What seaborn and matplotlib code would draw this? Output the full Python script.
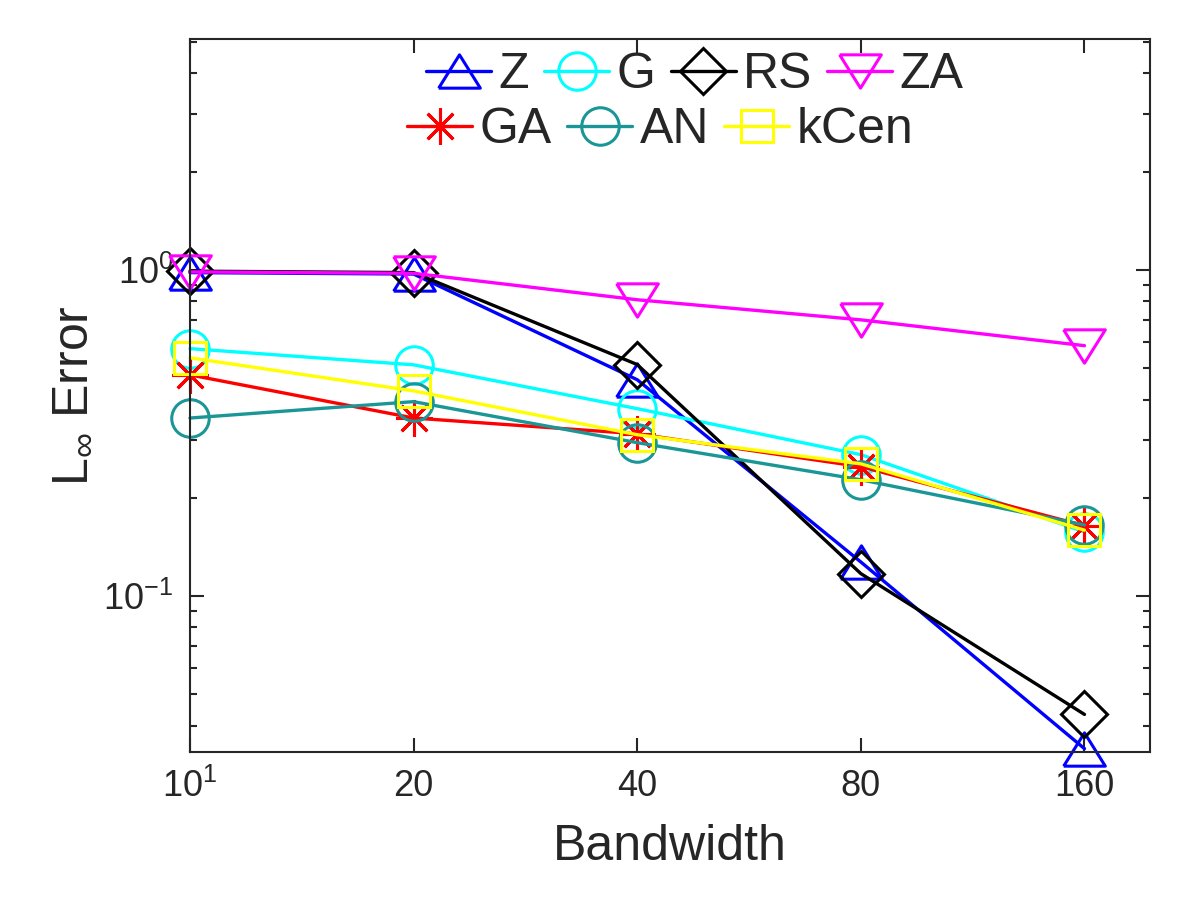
import numpy as np
import pandas as pd
import seaborn as sns
import matplotlib.pyplot as plt
from matplotlib.ticker import FixedLocator, FixedFormatter, NullLocator, LogLocator

# data
bandwidth = [10, 20, 40, 80, 160]
err_Z = [0.98, 0.97, 0.46, 0.127, 0.034]
err_G = [0.573, 0.511, 0.375, 0.271, 0.157]
err_RS = [0.99, 0.98, 0.512, 0.117, 0.0433]
err_ZA = [0.985, 0.975, 0.809, 0.702, 0.585]
err_GA = [0.476, 0.351, 0.314, 0.249, 0.164]
err_AN = [0.351, 0.394, 0.295, 0.227, 0.165]
err_kCen = [0.537, 0.425, 0.312, 0.254, 0.159]

names = ['Z', 'G', 'RS', 'ZA', 'GA', 'AN', 'kCen']
xticklabels = ['$10^1$', '20', '40', '80', '160']

sns.set_theme(style='ticks')
plt.rcParams['font.family'] = ['Liberation Sans', 'DejaVu Sans']
plt.rcParams['mathtext.default'] = 'regular'

ink = '#262626'
# matlab-like triangles, a bit wider than tall (closed paths)
tri_up = [(-1, -0.8), (1, -0.8), (0, 0.8), (-1, -0.8)]
tri_dn = [(-1, 0.8), (1, 0.8), (0, -0.8), (-1, 0.8)]
styles = {
    'Z': ('#0000ff', tri_up, 30),
    'G': ('#00ffff', 'o', 27),
    'RS': ('#000000', 'D', 23),
    'ZA': ('#ff00ff', tri_dn, 30),
    'GA': ('#ff0000', (8, 2, 0), 26),
    'AN': ('#1a9696', 'o', 27),
    'kCen': ('#ffff00', 's', 23),
}
series = [err_Z, err_G, err_RS, err_ZA, err_GA, err_AN, err_kCen]

fig = plt.figure(figsize=(12, 9), dpi=100)
ax = fig.add_axes([0.1583, 0.1644, 0.8, 0.7923])

for name, vals in zip(names, series):
    c, m, ms = styles[name]
    sns.lineplot(x=bandwidth, y=vals, ax=ax, color=c, marker=m, markersize=ms,
                 mfc='none', mec=c, mew=2.2, lw=2.4, label=name, clip_on=False)

ax.set_xscale('log')
ax.set_yscale('log')
ax.set_xlim(10, 196)
ax.set_ylim(0.0332, 5.1)

ax.xaxis.set_major_locator(FixedLocator(bandwidth))
ax.xaxis.set_major_formatter(FixedFormatter(xticklabels))
ax.xaxis.set_minor_locator(NullLocator())
ax.yaxis.set_major_locator(LogLocator(base=10))
ax.yaxis.set_minor_locator(LogLocator(base=10, subs=np.arange(2, 10)))

ax.tick_params(which='both', direction='in', top=True, right=True, color=ink,
               width=1.5, labelcolor=ink)
ax.tick_params(which='major', length=10, labelsize=26, pad=12)
ax.tick_params(which='minor', length=5)
for sp in ax.spines.values():
    sp.set_color(ink)
    sp.set_linewidth(1.5)

ax.set_xlabel('Bandwidth', fontsize=36, color=ink, labelpad=14)
ax.set_ylabel(r'L$_{\infty}$ Error', fontsize=36, color=ink, labelpad=6)

handles, labels = ax.get_legend_handles_labels()
ax.get_legend().remove()
leg_font = {'family': ['Liberation Sans Narrow', 'Liberation Sans'], 'size': 36}
leg1 = ax.legend(handles[:4], labels[:4], ncol=4, loc='center',
                 bbox_to_anchor=(0.526, 0.949), frameon=False, prop=leg_font,
                 handlelength=1.3, handletextpad=0.15, columnspacing=0.3,
                 borderpad=0, borderaxespad=0)
ax.add_artist(leg1)
ax.legend(handles[4:], labels[4:], ncol=3, loc='center',
          bbox_to_anchor=(0.49, 0.872), frameon=False, prop=leg_font,
          handlelength=1.3, handletextpad=0.15, columnspacing=0.3,
          borderpad=0, borderaxespad=0)

fig.savefig('out.png', dpi=100)
